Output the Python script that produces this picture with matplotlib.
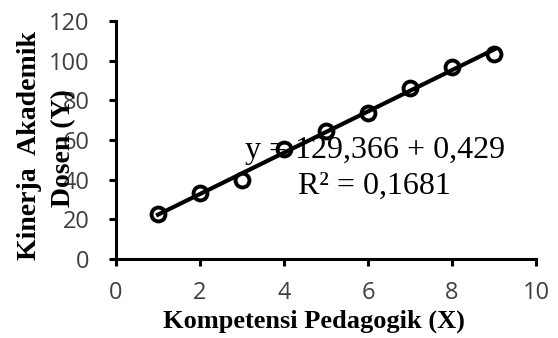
import numpy as np
import matplotlib.pyplot as plt

# data
x_vals = [1, 2, 3, 4, 5, 6, 7, 8, 9]
y_vals = [22.5, 33.5, 40, 55.5, 64.5, 73.5, 86, 97, 103.5]
eq_text = "y = 129,366 + 0,429"
r2_text = "R² = 0,1681"
x_ticks = [0, 2, 4, 6, 8, 10]
y_ticks = [0, 20, 40, 60, 80, 100, 120]

fig = plt.figure(figsize=(5.58, 3.38), dpi=100)
ax = fig.add_axes([116 / 558, 1 - 259 / 338, 420 / 558, 238 / 338])

# trend line
coef = np.polyfit(x_vals, y_vals, 1)
xs = np.array([x_vals[0], x_vals[-1]])
ax.plot(xs, np.polyval(coef, xs), color="black", lw=3, zorder=2)
ax.plot(x_vals, y_vals, "o", mfc="none", mec="black", mew=2.8, ms=10, zorder=3)

ax.set_xlim(0, 10)
ax.set_ylim(0, 120)
ax.set_xticks(x_ticks)
ax.set_yticks(y_ticks)
for s in ["top", "right"]:
    ax.spines[s].set_visible(False)
for s in ["left", "bottom"]:
    ax.spines[s].set_linewidth(2.2)
ax.tick_params(width=2.2, length=5, labelsize=17, direction="out")
ax.tick_params(axis="y", pad=14)
ax.tick_params(axis="x", pad=11)
for lab in ax.get_xticklabels() + ax.get_yticklabels():
    lab.set_fontfamily("Open Sans")
    lab.set_color("#404040")

serif = "Liberation Serif"
ax.text(6.17, 50.9, eq_text, fontsize=23, family=serif, ha="center", va="baseline")
ax.text(6.14, 33.0, r2_text, fontsize=23, family=serif, ha="center", va="baseline")

fig.text(314 / 558, 1 - 321 / 338, "Kompetensi Pedagogik (X)", fontsize=19,
         family=serif, weight="bold", ha="center", va="center")
fig.text(30 / 558, 1 - 146 / 338, "Kinerja  Akademik", fontsize=20,
         family=serif, weight="bold", ha="center", va="center", rotation=90)
fig.text(64 / 558, 1 - 148 / 338, "Dosen (Y)", fontsize=20,
         family=serif, weight="bold", ha="center", va="center", rotation=90)

fig.savefig("out.png", dpi=100)
